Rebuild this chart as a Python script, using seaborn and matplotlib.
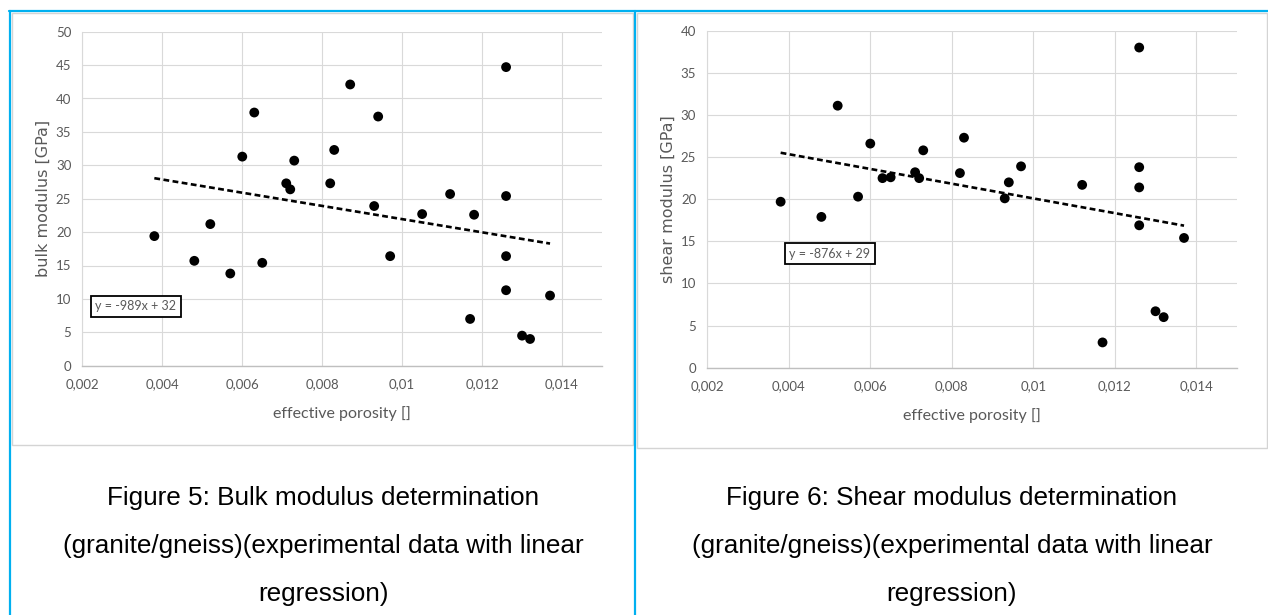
import numpy as np
import pandas as pd
import matplotlib
matplotlib.use("Agg")
import matplotlib.pyplot as plt
from matplotlib.patches import Rectangle
from matplotlib.lines import Line2D
from matplotlib.ticker import FuncFormatter, MultipleLocator
import seaborn as sns

# ---- data ----
bulk_porosity = [0.0038, 0.0048, 0.0052, 0.0057, 0.0060, 0.0063, 0.0065, 0.0071, 0.0072,
                 0.0073, 0.0082, 0.0083, 0.0087, 0.0093, 0.0094, 0.0097, 0.0105, 0.0112,
                 0.0117, 0.0118, 0.0126, 0.0126, 0.0126, 0.0126, 0.0130, 0.0132, 0.0137]
bulk_modulus = [19.4, 15.7, 21.2, 13.8, 31.3, 37.9, 15.4, 27.3, 26.4,
                30.7, 27.3, 32.3, 42.1, 23.9, 37.3, 16.4, 22.7, 25.7,
                7.0, 22.6, 44.7, 25.4, 16.4, 11.3, 4.5, 4.0, 10.5]

shear_porosity = [0.0038, 0.0048, 0.0052, 0.0057, 0.0060, 0.0063, 0.0065, 0.0071, 0.0072,
                  0.0073, 0.0082, 0.0083, 0.0093, 0.0094, 0.0097, 0.0112, 0.0117, 0.0126,
                  0.0126, 0.0126, 0.0126, 0.0130, 0.0132, 0.0137]
shear_modulus = [19.7, 17.9, 31.1, 20.3, 26.6, 22.5, 22.6, 23.2, 22.5,
                 25.8, 23.1, 27.3, 20.1, 22.0, 23.9, 21.7, 3.0, 38.0,
                 23.8, 21.4, 16.9, 6.7, 6.0, 15.4]

bulk_eq = "y = -989x + 32"
shear_eq = "y = -876x + 29"
x_ticks = [0.002, 0.004, 0.006, 0.008, 0.010, 0.012, 0.014]
x_label = "effective porosity []"
bulk_ylabel = "bulk modulus [GPa]"
shear_ylabel = "shear modulus [GPa]"
caption5 = ["Figure 5: Bulk modulus determination",
            "(granite/gneiss)(experimental data with linear",
            "regression)"]
caption6 = ["Figure 6: Shear modulus determination",
            "(granite/gneiss)(experimental data with linear",
            "regression)"]

bulk_df = pd.DataFrame({"porosity": bulk_porosity, "modulus": bulk_modulus})
shear_df = pd.DataFrame({"porosity": shear_porosity, "modulus": shear_modulus})

# ---- style ----
sns.set_style("white")
plt.rcParams["font.family"] = ["Lato", "DejaVu Sans"]

W, H = 1268, 615
fig = plt.figure(figsize=(W / 100, H / 100), dpi=100)
fig.patch.set_facecolor("white")

TICK_C = "#595959"
GRID_C = "#d9d9d9"


def px_axes(x0, y0, x1, y1):
    return fig.add_axes([x0 / W, 1 - y1 / H, (x1 - x0) / W, (y1 - y0) / H])


def style_axes(ax, ymax, ylabel, eq, eq_pos, ylab_x):
    ax.set_xlim(0.002, 0.015)
    ax.set_ylim(0, ymax)
    ax.set_xticks(x_ticks)
    ax.yaxis.set_major_locator(MultipleLocator(5))
    ax.xaxis.set_major_formatter(FuncFormatter(lambda v, p: f"{v:g}".replace(".", ",")))
    ax.grid(True, color=GRID_C, linewidth=0.8)
    ax.set_axisbelow(True)
    for s in ["top", "right"]:
        ax.spines[s].set_visible(False)
    ax.spines["left"].set_color(GRID_C)
    ax.spines["left"].set_linewidth(0.8)
    ax.spines["bottom"].set_color("#bfbfbf")
    ax.spines["bottom"].set_linewidth(1.0)
    ax.tick_params(axis="both", length=0, labelsize=9.5, labelcolor=TICK_C)
    ax.tick_params(axis="y", pad=8)
    ax.tick_params(axis="x", pad=9)
    ax.set_xlabel(x_label, fontsize=11.5, color=TICK_C, va="center")
    ax.xaxis.set_label_coords(0.5, -0.142)
    ax.set_ylabel(ylabel, fontsize=11.5, color=TICK_C, va="center",
                  family=["DejaVu Sans"])
    ax.yaxis.set_label_coords(ylab_x, 0.5)
    ax.text(eq_pos[0], eq_pos[1], eq, transform=ax.transAxes, ha="center", va="center",
            fontsize=9, color=TICK_C,
            bbox=dict(boxstyle="square,pad=0.35", facecolor="white",
                      edgecolor="black", linewidth=1.3))


line_kws = dict(color="black", linewidth=1.9, linestyle=(0, (2.2, 1.3)))
scatter_kws = dict(s=50, color="black", edgecolors="none", alpha=1)

ax1 = px_axes(82.4, 31.7, 602, 365.7)
sns.regplot(data=bulk_df, x="porosity", y="modulus", ax=ax1, ci=None, truncate=True,
            scatter_kws=scatter_kws, line_kws=line_kws)
style_axes(ax1, 50, bulk_ylabel, bulk_eq, (0.1027, 0.178), -0.0758)

ax2 = px_axes(707.3, 30.7, 1237, 367.7)
sns.regplot(data=shear_df, x="porosity", y="modulus", ax=ax2, ci=None, truncate=True,
            scatter_kws=scatter_kws, line_kws=line_kws)
style_axes(ax2, 40, shear_ylabel, shear_eq, (0.2312, 0.3378), -0.0728)

# ---- chart frames ----
def frame(x0, y0, x1, y1):
    fig.add_artist(Rectangle((x0 / W, 1 - y1 / H), (x1 - x0) / W, (y1 - y0) / H,
                             transform=fig.transFigure, fill=False,
                             edgecolor="#d4d4d4", linewidth=1.0))

frame(12, 13, 633, 445)
frame(637, 13, 1267, 448)

# ---- blue table borders ----
BLUE = "#00b0f0"
def fline(xs, ys):
    fig.add_artist(Line2D([x / W for x in xs], [1 - y / H for y in ys],
                          transform=fig.transFigure, color=BLUE, linewidth=1.6))

fline([9, 1268], [11, 11])
fline([10, 10], [11, 615])
fline([635, 635], [11, 615])

# ---- captions ----
for lines, cx in [(caption5, 323), (caption6, 952)]:
    for i, t in enumerate(lines):
        fig.text(cx / W, 1 - (505 + 48 * i) / H, t, ha="center", va="baseline",
                 fontsize=18.8, color="black", family=["Liberation Sans", "DejaVu Sans"])

fig.savefig("out.png", dpi=100, facecolor="white")
